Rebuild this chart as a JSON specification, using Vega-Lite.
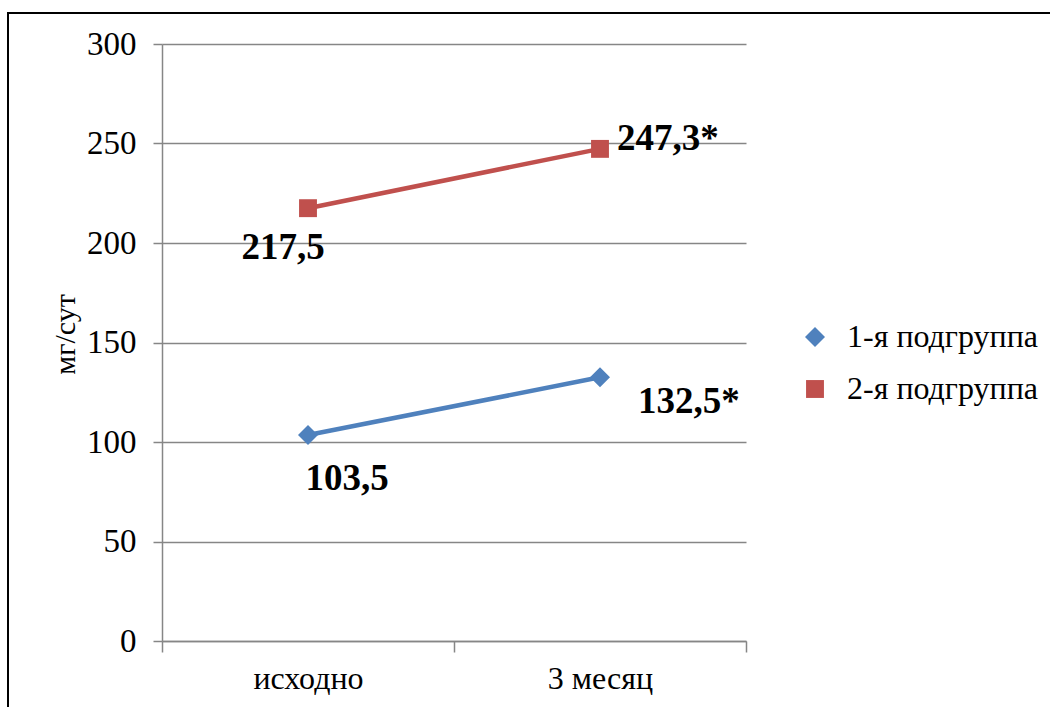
{
  "$schema": "https://vega.github.io/schema/vega-lite/v6.json",
  "width": 1044,
  "height": 696,
  "autosize": {"type": "none"},
  "padding": {"left": 8, "top": 13, "right": 0, "bottom": 0},
  "background": "white",
  "config": {
    "font": "Liberation Serif",
    "view": {"stroke": "black", "strokeWidth": 2},
    "axis": {
      "labelFont": "Liberation Serif",
      "titleFont": "Liberation Serif",
      "labelColor": "black",
      "titleColor": "black",
      "domainColor": "#868686",
      "tickColor": "#868686",
      "gridColor": "#868686",
      "domainWidth": 1.5,
      "tickWidth": 1.5,
      "gridWidth": 1.5
    }
  },
  "data": {
    "values": [
      {"period": "исходно", "group": "1-я подгруппа", "value": 103.5, "label": "103,5"},
      {"period": "3 месяц", "group": "1-я подгруппа", "value": 132.5, "label": "132,5*"},
      {"period": "исходно", "group": "2-я подгруппа", "value": 217.5, "label": "217,5"},
      {"period": "3 месяц", "group": "2-я подгруппа", "value": 247.3, "label": "247,3*"}
    ]
  },
  "encoding": {
    "x": {
      "field": "period",
      "type": "nominal",
      "sort": ["исходно", "3 месяц"],
      "bandPosition": 0.5,
      "scale": {"type": "band", "range": [154, 738], "paddingInner": 0, "paddingOuter": 0},
      "axis": {
        "title": null,
        "offset": -68,
        "tickBand": "extent",
        "tickSize": 11,
        "labelFont": "Liberation Serif",
        "labelFontSize": 32,
        "labelPadding": 11,
        "labelAngle": 0,
        "grid": false
      }
    },
    "y": {
      "field": "value",
      "type": "quantitative",
      "scale": {"domain": [0, 300], "range": [628, 31], "nice": false},
      "axis": {
        "title": "мг/сут",
        "offset": -154,
        "values": [0, 50, 100, 150, 200, 250, 300],
        "tickSize": 9,
        "labelFont": "Liberation Serif",
        "labelFontSize": 33,
        "labelPadding": 17,
        "grid": true,
        "titleFont": "Liberation Serif",
        "titleFontSize": 30,
        "titleFontWeight": "normal",
        "titleX": -97,
        "titleY": 321,
        "titleAlign": "center",
        "titleBaseline": "middle"
      }
    }
  },
  "layer": [
    {
      "mark": {"type": "line", "strokeWidth": 4.5},
      "encoding": {
        "color": {
          "field": "group",
          "type": "nominal",
          "scale": {"domain": ["1-я подгруппа", "2-я подгруппа"], "range": ["#4F81BD", "#C0504D"]}
        }
      }
    },
    {
      "mark": {"type": "point", "filled": true, "opacity": 1},
      "encoding": {
        "color": {
          "field": "group",
          "type": "nominal",
          "scale": {"domain": ["1-я подгруппа", "2-я подгруппа"], "range": ["#4F81BD", "#C0504D"]},
          "legend": {
            "title": null,
            "orient": "none",
            "legendX": 791,
            "legendY": 308,
            "symbolSize": 330,
            "symbolStrokeWidth": 0,
            "labelFontSize": 32,
            "labelFont": "Liberation Serif",
            "labelColor": "black",
            "labelOffset": 16,
            "labelLimit": 400,
            "rowPadding": 20
          }
        },
        "shape": {
          "field": "group",
          "type": "nominal",
          "scale": {"domain": ["1-я подгруппа", "2-я подгруппа"], "range": ["diamond", "square"]},
          "legend": null
        },
        "size": {
          "field": "group",
          "type": "nominal",
          "scale": {"domain": ["1-я подгруппа", "2-я подгруппа"], "range": [400, 320]},
          "legend": null
        }
      }
    },
    {
      "transform": [{"filter": "datum.group === '2-я подгруппа' && datum.period === 'исходно'"}],
      "mark": {"type": "text", "font": "Liberation Serif", "fontSize": 37, "fontWeight": "bold", "color": "black", "align": "center", "baseline": "middle", "dx": -25, "dy": 40},
      "encoding": {"text": {"field": "label"}}
    },
    {
      "transform": [{"filter": "datum.group === '2-я подгруппа' && datum.period === '3 месяц'"}],
      "mark": {"type": "text", "font": "Liberation Serif", "fontSize": 37, "fontWeight": "bold", "color": "black", "align": "left", "baseline": "middle", "dx": 17, "dy": -10},
      "encoding": {"text": {"field": "label"}}
    },
    {
      "transform": [{"filter": "datum.group === '1-я подгруппа' && datum.period === 'исходно'"}],
      "mark": {"type": "text", "font": "Liberation Serif", "fontSize": 37, "fontWeight": "bold", "color": "black", "align": "center", "baseline": "middle", "dx": 39, "dy": 44},
      "encoding": {"text": {"field": "label"}}
    },
    {
      "transform": [{"filter": "datum.group === '1-я подгруппа' && datum.period === '3 месяц'"}],
      "mark": {"type": "text", "font": "Liberation Serif", "fontSize": 37, "fontWeight": "bold", "color": "black", "align": "left", "baseline": "middle", "dx": 38, "dy": 25},
      "encoding": {"text": {"field": "label"}}
    }
  ]
}
